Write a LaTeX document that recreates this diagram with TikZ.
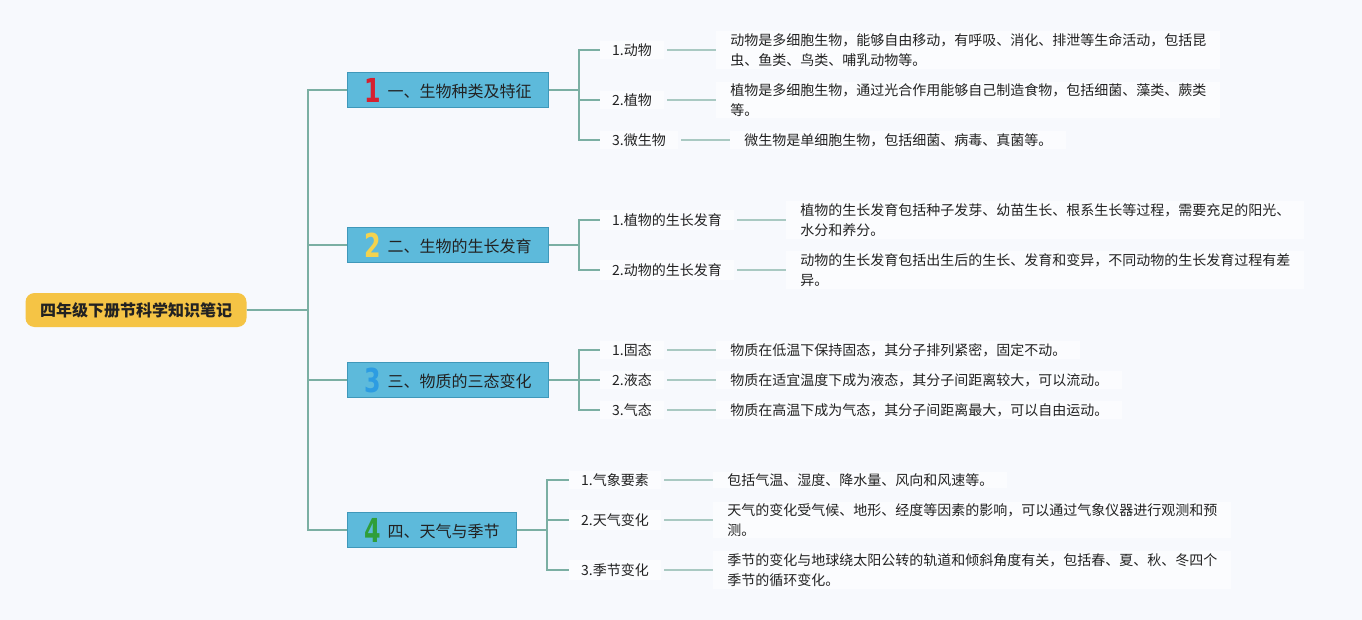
\documentclass[tikz,border=0pt]{standalone}
\usepackage{fontspec}
\usepackage{graphicx}
\setmainfont{Noto Sans CJK SC}
\newfontfamily\numfont{DejaVu Sans}
\usetikzlibrary{positioning}

\definecolor{paper}{HTML}{F7F9FD}
\definecolor{rootyellow}{HTML}{F5C445}
\definecolor{topicblue}{HTML}{5DBADB}
\definecolor{topicedge}{HTML}{3F98BA}
\definecolor{trunkcol}{HTML}{7BAFA3}
\definecolor{twigcol}{HTML}{A9C9C2}
\definecolor{inkcol}{HTML}{222222}
\definecolor{numred}{HTML}{D5202F}
\definecolor{numyellow}{HTML}{F3D34E}
\definecolor{numblue}{HTML}{2D9CE2}
\definecolor{numgreen}{HTML}{2F9E3A}

\newcommand\topicnum[2]{\raisebox{-5pt}{\scalebox{0.72}[1]{\numfont\bfseries\fontsize{33}{33}\selectfont\color{#1}#2}}\hspace{7pt}}

\begin{document}
\begin{tikzpicture}[
  x=1pt, y=-1pt,
  font=\fontsize{14}{20}\selectfont, text=inkcol,
  root/.style={fill=rootyellow, rounded corners=9pt, minimum width=221pt,
    minimum height=34pt, inner sep=0pt, font=\fontsize{16}{18}\selectfont\bfseries},
  topic/.style={draw=topicedge, line width=0.8pt, fill=topicblue, anchor=west,
    minimum width=201pt, minimum height=35pt, inner sep=0pt,
    font=\fontsize{16}{18}\selectfont},
  leaf/.style={fill=white!55!paper, anchor=west, inner xsep=12pt, inner ysep=3pt},
  detail/.style={fill=white!55!paper, align=left, inner xsep=14pt, inner ysep=2pt},
  trunk/.style={draw=trunkcol, line width=1.6pt},
  twig/.style={draw=twigcol, line width=1.3pt, shorten <=3pt}
]

\fill[paper] (0,0) rectangle (1362,620);
\useasboundingbox (0,0) rectangle (1362,620);

\node[root] (root) at (136,310) {四年级下册节科学知识笔记};

% Branch 1
\node[topic] (t1) at (347,90) {\topicnum{numred}{1}一、生物种类及特征};
\node[leaf] (a1) at (600,50) {1.动物};
\node[leaf] (a2) at (600,100) {2.植物};
\node[leaf] (a3) at (600,140) {3.微生物};
\node[detail, right=52pt of a1] (d1)
  {动物是多细胞生物，能够自由移动，有呼吸、消化、排泄等生命活动，包括昆\\虫、鱼类、鸟类、哺乳动物等。};
\node[detail, right=52pt of a2] (d2)
  {植物是多细胞生物，通过光合作用能够自己制造食物，包括细菌、藻类、蕨类\\等。};
\node[detail, right=52pt of a3] (d3)
  {微生物是单细胞生物，包括细菌、病毒、真菌等。};

% Branch 2
\node[topic] (t2) at (347,245) {\topicnum{numyellow}{2}二、生物的生长发育};
\node[leaf] (b1) at (600,220) {1.植物的生长发育};
\node[leaf] (b2) at (600,270) {2.动物的生长发育};
\node[detail, right=52pt of b1] (e1)
  {植物的生长发育包括种子发芽、幼苗生长、根系生长等过程，需要充足的阳光、\\水分和养分。};
\node[detail, right=52pt of b2] (e2)
  {动物的生长发育包括出生后的生长、发育和变异，不同动物的生长发育过程有差\\异。};

% Branch 3
\node[topic] (t3) at (347,380) {\topicnum{numblue}{3}三、物质的三态变化};
\node[leaf] (c1) at (600,350) {1.固态};
\node[leaf] (c2) at (600,380) {2.液态};
\node[leaf] (c3) at (600,410) {3.气态};
\node[detail, right=52pt of c1] (f1)
  {物质在低温下保持固态，其分子排列紧密，固定不动。};
\node[detail, right=52pt of c2] (f2)
  {物质在适宜温度下成为液态，其分子间距离较大，可以流动。};
\node[detail, right=52pt of c3] (f3)
  {物质在高温下成为气态，其分子间距离最大，可以自由运动。};

% Branch 4
\node[topic, minimum width=169pt] (t4) at (347,530) {\topicnum{numgreen}{4}四、天气与季节};
\node[leaf] (g1) at (569,480) {1.气象要素};
\node[leaf] (g2) at (569,520) {2.天气变化};
\node[leaf] (g3) at (569,570) {3.季节变化};
\node[detail, right=52pt of g1] (h1)
  {包括气温、湿度、降水量、风向和风速等。};
\node[detail, right=52pt of g2] (h2)
  {天气的变化受气候、地形、经度等因素的影响，可以通过气象仪器进行观测和预\\测。};
\node[detail, right=52pt of g3] (h3)
  {季节的变化与地球绕太阳公转的轨道和倾斜角度有关，包括春、夏、秋、冬四个\\季节的循环变化。};

% Connectors
\foreach \t in {t1,t2,t3,t4}
  \draw[trunk] (root.east) -- ++(61,0) |- (\t.west);
\foreach \l in {a1,a2,a3}
  \draw[trunk] (t1.east) -- ++(30,0) |- (\l.west);
\foreach \l in {b1,b2}
  \draw[trunk] (t2.east) -- ++(30,0) |- (\l.west);
\foreach \l in {c1,c2,c3}
  \draw[trunk] (t3.east) -- ++(30,0) |- (\l.west);
\foreach \l in {g1,g2,g3}
  \draw[trunk] (t4.east) -- ++(30,0) |- (\l.west);
\draw[twig] (a1.east) -- (d1.west);
\draw[twig] (a2.east) -- (d2.west);
\draw[twig] (a3.east) -- (d3.west);
\draw[twig] (b1.east) -- (e1.west);
\draw[twig] (b2.east) -- (e2.west);
\draw[twig] (c1.east) -- (f1.west);
\draw[twig] (c2.east) -- (f2.west);
\draw[twig] (c3.east) -- (f3.west);
\draw[twig] (g1.east) -- (h1.west);
\draw[twig] (g2.east) -- (h2.west);
\draw[twig] (g3.east) -- (h3.west);
\end{tikzpicture}
\end{document}
